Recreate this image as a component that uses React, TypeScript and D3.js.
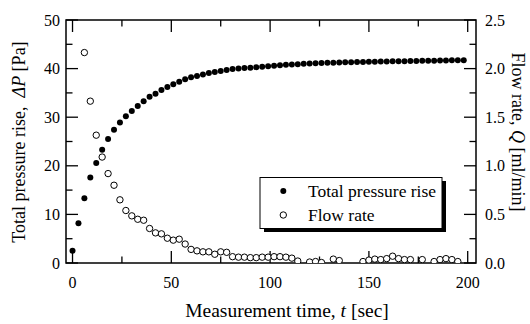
import React from "react";
import * as d3 from "d3";

const pressureTimes = d3.range(0, 199, 3);
const pressureValues = [
  2.5, 8.2, 13.3, 17.6, 20.6, 23.3, 25.5, 27.4, 28.9, 30.2, 31.3, 32.3, 33.3, 34.2, 34.8, 35.6, 36.2,
  36.8, 37.3, 37.8, 38.2, 38.5, 38.8, 39.1, 39.3, 39.5, 39.7, 39.9, 40.0, 40.1, 40.2, 40.3, 40.4,
  40.5, 40.6, 40.7, 40.8, 40.85, 40.9, 41.0, 41.05, 41.1, 41.15, 41.2, 41.2, 41.25, 41.3, 41.3, 41.35,
  41.35, 41.4, 41.4, 41.45, 41.45, 41.5, 41.5, 41.5, 41.55, 41.55, 41.6, 41.6, 41.6, 41.65, 41.65,
  41.7, 41.7, 41.7,
];

const flowTimes = d3.range(6, 196, 3);
const flowValues: (number | null)[] = [
  2.165, 1.665, 1.315, 1.09, 0.92, 0.8, 0.65, 0.54, 0.485, 0.45, 0.44, 0.355, 0.31, 0.3, 0.255,
  0.235, 0.245, 0.195, 0.14, 0.125, 0.115, 0.115, 0.09, 0.115, 0.11, 0.065, 0.06, 0.06, 0.055,
  0.055, 0.06, 0.06, 0.065, 0.065, 0.06, 0.05, 0.02, null, 0.01, 0.015, 0.005, null, 0.04, 0.025,
  null, null, null, 0.015, 0.03, 0.04, 0.035, 0.045, 0.07, 0.045, 0.035, 0.035, null, 0.035, null,
  0.015, 0.035, 0.045, 0.035, 0.015,
];

const xMajor = [0, 50, 100, 150, 200];
const xMinor = [25, 75, 125, 175];
const yLeftMajor = [0, 10, 20, 30, 40, 50];
const yLeftMinor = [5, 15, 25, 35, 45];
const yRightMajor = [0, 0.5, 1.0, 1.5, 2.0, 2.5];
const yRightMinor = [0.25, 0.75, 1.25, 1.75, 2.25];

const W = 530;
const H = 324;
const L = 66, R = 476, T = 20, B = 263;
const FONT = "'Liberation Serif', 'Times New Roman', serif";

export default function App() {
  const x = d3.scaleLinear().domain([-3.3, 204.2]).range([L, R]);
  const yL = d3.scaleLinear().domain([0, 50]).range([B, T]);
  const yR = d3.scaleLinear().domain([0, 2.5]).range([B, T]);
  const majorLen = 12;
  const minorLen = 6.5;
  const sw = 1.3;

  const flowPts = flowTimes
    .map((t, i) => ({ t, v: flowValues[i] }))
    .filter((d) => d.v !== null) as { t: number; v: number }[];

  return (
    <svg width={W} height={H} style={{ position: "absolute", left: 0, top: 0, background: "#fff", fontFamily: FONT }}>
      <rect x={0} y={0} width={W} height={H} fill="#fff" />
      <defs>
        <clipPath id="plotclip">
          <rect x={L} y={T - 5} width={R - L} height={B - T + 5} />
        </clipPath>
      </defs>
      {xMajor.map((v) => (
        <g key={"xM" + v}>
          <line x1={x(v)} x2={x(v)} y1={B} y2={B - majorLen} stroke="#000" strokeWidth={sw} />
          <line x1={x(v)} x2={x(v)} y1={T} y2={T + majorLen} stroke="#000" strokeWidth={sw} />
          <text x={x(v)} y={288} fontSize={16} textAnchor="middle">{v}</text>
        </g>
      ))}
      {xMinor.map((v) => (
        <g key={"xm" + v}>
          <line x1={x(v)} x2={x(v)} y1={B} y2={B - minorLen} stroke="#000" strokeWidth={sw} />
          <line x1={x(v)} x2={x(v)} y1={T} y2={T + minorLen} stroke="#000" strokeWidth={sw} />
        </g>
      ))}
      {yLeftMajor.map((v) => (
        <g key={"yl" + v}>
          <line x1={L} x2={L + majorLen} y1={yL(v)} y2={yL(v)} stroke="#000" strokeWidth={sw} />
          <text x={60} y={yL(v)} dy="0.35em" fontSize={16} textAnchor="end">{v}</text>
        </g>
      ))}
      {yLeftMinor.map((v) => (
        <line key={"ylm" + v} x1={L} x2={L + minorLen} y1={yL(v)} y2={yL(v)} stroke="#000" strokeWidth={sw} />
      ))}
      {yRightMajor.map((v) => (
        <g key={"yr" + v}>
          <line x1={R} x2={R - majorLen} y1={yR(v)} y2={yR(v)} stroke="#000" strokeWidth={sw} />
          <text x={485} y={yR(v)} dy="0.35em" fontSize={16} textAnchor="start">{v.toFixed(1)}</text>
        </g>
      ))}
      {yRightMinor.map((v) => (
        <line key={"yrm" + v} x1={R} x2={R - minorLen} y1={yR(v)} y2={yR(v)} stroke="#000" strokeWidth={sw} />
      ))}
      <rect x={L} y={T} width={R - L} height={B - T} fill="none" stroke="#000" strokeWidth={1.5} />

      <g clipPath="url(#plotclip)">
        {pressureTimes.map((t, i) => (
          <circle key={"p" + t} cx={x(t)} cy={yL(pressureValues[i])} r={3} fill="#000" />
        ))}
        {flowPts.map((d) => (
          <circle key={"f" + d.t} cx={x(d.t)} cy={yR(d.v)} r={3.2} fill="#fff" stroke="#000" strokeWidth={1} />
        ))}
      </g>

      <rect x={264} y={181} width={182} height={51} fill="#000" />
      <rect x={260} y={177.5} width={182} height={51} fill="#fff" stroke="#000" strokeWidth={1} />
      <circle cx={283.3} cy={191} r={3} fill="#000" />
      <text x={308} y={197} fontSize={17.5}>Total pressure rise</text>
      <circle cx={283.3} cy={215} r={3.2} fill="#fff" stroke="#000" strokeWidth={1} />
      <text x={308} y={221} fontSize={17.5}>Flow rate</text>

      <text x={287} y={316.5} fontSize={19.5} textAnchor="middle">
        Measurement time, <tspan fontStyle="italic">t</tspan> [sec]
      </text>
      <text transform={`translate(25,142) rotate(-90)`} fontSize={18} textAnchor="middle">
        Total pressure rise,{"\u00a0 "}<tspan fontStyle="italic">ΔP</tspan> [Pa]
      </text>
      <text transform={`translate(512,132) rotate(90)`} fontSize={18} textAnchor="middle">
        Flow rate, <tspan fontStyle="italic">Q</tspan> [ml/min]
      </text>
    </svg>
  );
}
